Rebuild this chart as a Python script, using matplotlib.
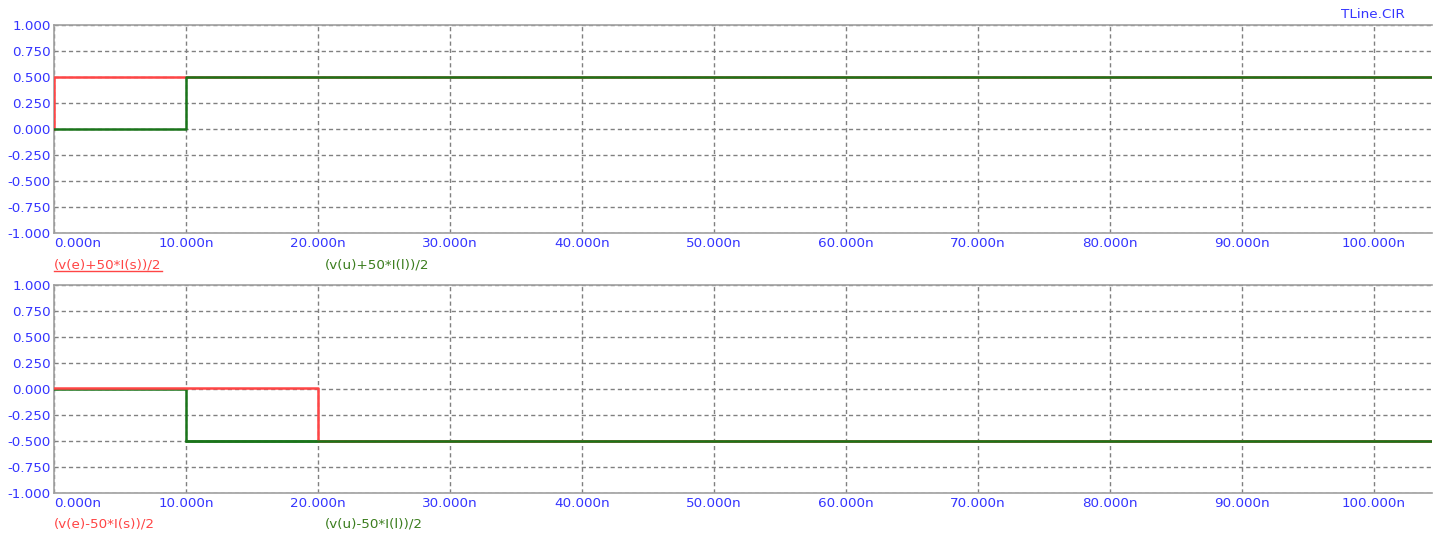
import matplotlib
matplotlib.use("Agg")
import matplotlib.pyplot as plt
from matplotlib.lines import Line2D

plt.rcParams['font.family'] = ['DejaVu Sans']

# ---- data (time in ns) ----
t_end = 104.4
top_red_t = [0, 0, t_end]
top_red_v = [0.0, 0.5, 0.5]
top_green_t = [0, 10, 10, t_end]
top_green_v = [0.0, 0.0, 0.5, 0.5]

bot_red_t = [0, 20, 20, t_end]
bot_red_v = [0.008, 0.008, -0.5, -0.5]
bot_green_t = [0, 10, 10, t_end]
bot_green_v = [0.0, 0.0, -0.5, -0.5]

x_ticks = [0, 10, 20, 30, 40, 50, 60, 70, 80, 90, 100]
y_ticks = [-1.0, -0.75, -0.5, -0.25, 0.0, 0.25, 0.5, 0.75, 1.0]

top_labels = ["(v(e)+50*I(s))/2", "(v(u)+50*I(l))/2"]
bot_labels = ["(v(e)-50*I(s))/2", "(v(u)-50*I(l))/2"]
title = "TLine.CIR"

RED = '#ff4545'
GREEN = '#1a741a'
BLUE = '#3535ff'
LBL_GREEN = '#3b7d1e'
FS = 9.7

W, H = 1453, 537
fig = plt.figure(figsize=(W / 100, H / 100), dpi=100)

def fx(px):
    return px / W

def fy(py):
    return 1 - py / H

left, right = 54, 1432
ax1 = fig.add_axes([fx(left), fy(233), fx(right - left), (233 - 25) / H])
ax2 = fig.add_axes([fx(left), fy(493), fx(right - left), (493 - 285) / H])

def style(ax):
    ax.set_xlim(0, t_end)
    ax.set_ylim(-1, 1)
    ax.set_xticks(x_ticks)
    ax.set_yticks(y_ticks)
    ax.set_xticklabels([f"{v:.3f}n" for v in x_ticks])
    ax.set_yticklabels([f"{v:.3f}" for v in y_ticks])
    ax.tick_params(length=0, labelsize=FS, labelcolor=BLUE, pad=3)
    ax.tick_params(axis='y', pad=2.5)
    ax.get_xticklabels()[0].set_horizontalalignment('left')
    for s in ['left', 'bottom', 'top']:
        ax.spines[s].set_color('#a0a0a0')
        ax.spines[s].set_linewidth(1.2)
    ax.spines['right'].set_visible(False)
    ax.grid(True, color='#808080', linestyle=(0, (3, 2.2)), linewidth=1)
    ax.set_axisbelow(True)

style(ax1)
style(ax2)

ax1.plot(top_red_t, top_red_v, color=RED, lw=1.8, zorder=3)
ax1.plot(top_green_t, top_green_v, color=GREEN, lw=1.8, zorder=4)
ax2.plot(bot_green_t, bot_green_v, color=GREEN, lw=1.8, zorder=3)
ax2.plot(bot_red_t, bot_red_v, color=RED, lw=1.8, zorder=4)
ax2.plot(bot_green_t[2:], bot_green_v[2:], color=GREEN, lw=1.8, zorder=5)

t1 = fig.text(fx(54), fy(265), top_labels[0], color=RED, fontsize=FS, va='center', ha='left')
fig.text(fx(325), fy(265), top_labels[1], color=LBL_GREEN, fontsize=FS, va='center', ha='left')
fig.text(fx(54), fy(524), bot_labels[0], color=RED, fontsize=FS, va='center', ha='left')
fig.text(fx(325), fy(524), bot_labels[1], color=LBL_GREEN, fontsize=FS, va='center', ha='left')
fig.text(fx(1405), fy(15), title, color=BLUE, fontsize=FS, va='center', ha='right')

# underline the first label
fig.canvas.draw()
bb = t1.get_window_extent(renderer=fig.canvas.get_renderer())
uy = (bb.y0 + 1) / H
fig.add_artist(Line2D([bb.x0 / W, bb.x1 / W], [uy, uy], color=RED, lw=1, transform=fig.transFigure))

fig.savefig('out.png', dpi=100)
